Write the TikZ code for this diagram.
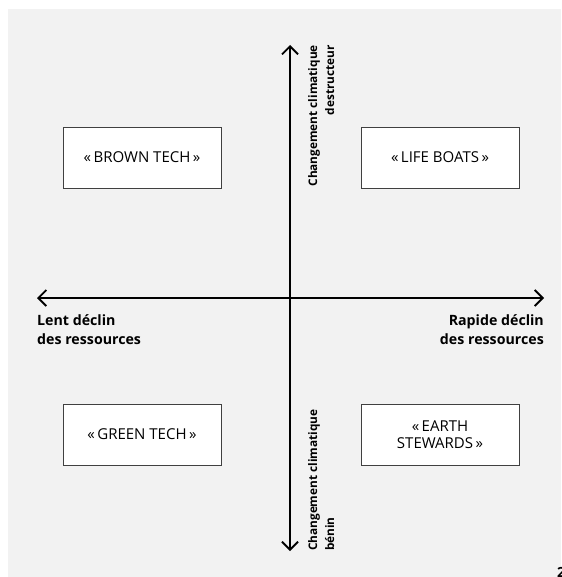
\documentclass[tikz,border=0pt]{standalone}
\usepackage{fontspec}
\setmainfont{Open Sans}
\usetikzlibrary{arrows.meta}

\begin{document}
\begin{tikzpicture}[x=1pt,y=-1pt]
        \tikzstyle{every node}+=[inner sep=0pt]
        \tikzstyle{scenario}=[draw=black!75, fill=white, line width=0.8pt, minimum width=158pt, minimum height=61pt, align=center, font=\fontsize{15}{16.5}\selectfont]
        \tikzstyle{axislabel}=[font=\bfseries\fontsize{14.2}{19}\selectfont]
        \tikzstyle{climlabel}=[font=\bfseries\fontsize{11.8}{17}\selectfont, rotate=90]
        \tikzstyle{axis}=[line width=1.8pt, {Straight Barb[length=8pt,width=16pt]}-{Straight Barb[length=8pt,width=16pt]}]
        \useasboundingbox (0,0) rectangle (561,577);
        \fill [white] (0,0) rectangle (561,577);
        \fill [black!5] (8,9) rectangle (561,577);
        % axes
        \coordinate (top) at (290,45);
        \coordinate (bottom) at (290,551);
        \coordinate (left) at (37,298);
        \coordinate (right) at (544,298);
        \draw [axis] (bottom) -- (top);
        \draw [axis] (left) -- (right);
        % axis labels
        \node [climlabel, anchor=north east, align=right] (destr) at (308,45) {Changement climatique\\destructeur};
        \node [climlabel, anchor=north west, align=left] (benin) at (308,551) {Changement climatique\\bénin};
        \node [axislabel, anchor=north west, align=left] (lent) at (37,314) {Lent déclin\\des ressources};
        \node [axislabel, anchor=north east, align=right] (rapide) at (544,314) {Rapide déclin\\des ressources};
        % scenarios
        \node [scenario] (brown) at (142,157.5) {«\,BROWN TECH\,»};
        \node [scenario] (life) at (440,157.5) {«\,LIFE BOATS\,»};
        \node [scenario] (green) at (142,434.5) {«\,GREEN TECH\,»};
        \node [scenario] (earth) at (440,434.5) {«\,EARTH\\STEWARDS\,»};
        \node [anchor=west, font=\bfseries\fontsize{14}{14}\selectfont] (page) at (557,572) {2};
\end{tikzpicture}
\end{document}
